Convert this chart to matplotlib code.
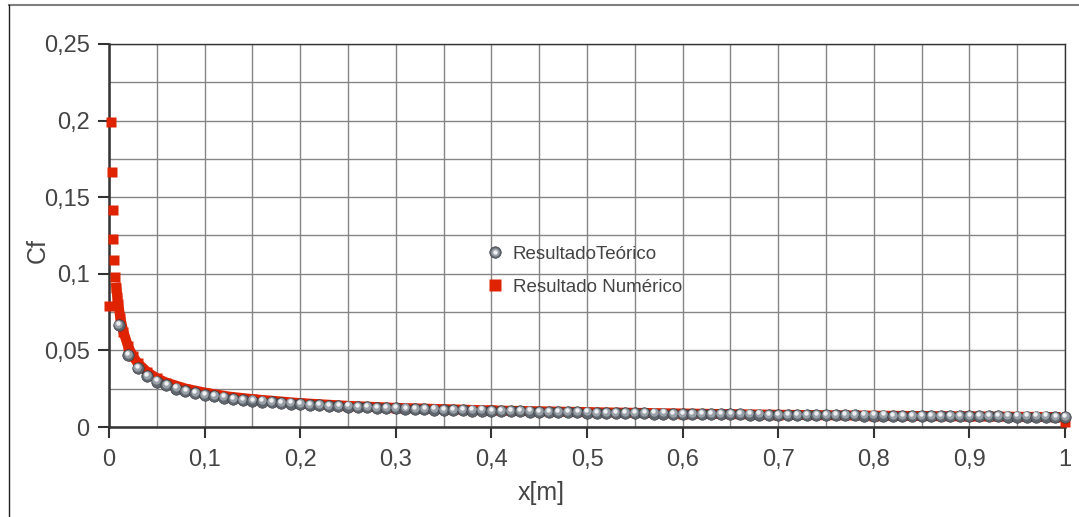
import matplotlib.pyplot as plt
import numpy as np
from matplotlib.lines import Line2D
from matplotlib.ticker import FuncFormatter, MultipleLocator
from matplotlib.transforms import ScaledTranslation

plt.rcParams['font.family'] = ['Liberation Sans', 'DejaVu Sans']

# Cf teorico, x = 0.01 ... 1.0 (passo 0.01)
x_teo = np.linspace(0.01, 1.0, 100)
cf_teo = [
    0.0664, 0.04695, 0.03834, 0.0332, 0.02969, 0.02711, 0.02510, 0.02348, 0.02213, 0.02100,
    0.02002, 0.01917, 0.01842, 0.01775, 0.01714, 0.0166, 0.01610, 0.01565, 0.01523, 0.01485,
    0.01449, 0.01416, 0.01385, 0.01355, 0.01328, 0.01302, 0.01278, 0.01255, 0.01233, 0.01212,
    0.01193, 0.01174, 0.01156, 0.01139, 0.01122, 0.01107, 0.01092, 0.01077, 0.01063, 0.01050,
    0.01037, 0.01025, 0.01013, 0.01001, 0.00990, 0.00979, 0.00969, 0.00958, 0.00949, 0.00939,
    0.00930, 0.00921, 0.00912, 0.00904, 0.00895, 0.00887, 0.00879, 0.00872, 0.00864, 0.00857,
    0.00850, 0.00843, 0.00837, 0.0083, 0.00824, 0.00817, 0.00811, 0.00805, 0.00799, 0.00794,
    0.00788, 0.00783, 0.00777, 0.00772, 0.00767, 0.00762, 0.00757, 0.00752, 0.00747, 0.00742,
    0.00738, 0.00733, 0.00729, 0.00724, 0.00720, 0.00716, 0.00712, 0.00708, 0.00704, 0.00700,
    0.00696, 0.00692, 0.00689, 0.00685, 0.00681, 0.00678, 0.00674, 0.00671, 0.00667, 0.00664,
]

# Cf numerico - pontos isolados no bordo de ataque
x_num_le = [0.0, 0.0017, 0.0027, 0.0037, 0.0047, 0.0057, 0.0067]
cf_num_le = [0.0788, 0.199, 0.1667, 0.1414, 0.1227, 0.109, 0.0981]

# Cf numerico - resto da placa
x_num = [0.0077, 0.0087, 0.0097, 0.012, 0.015, 0.02, 0.025, 0.03, 0.04, 0.05,
         0.06, 0.08, 0.1, 0.125, 0.15, 0.2, 0.25, 0.3, 0.4, 0.5,
         0.6, 0.7, 0.8, 0.9, 0.99]
cf_num = [0.0909, 0.085, 0.080, 0.0709, 0.0623, 0.0526, 0.0462, 0.0418, 0.0359, 0.0318,
          0.0290, 0.0251, 0.0225, 0.0199, 0.0182, 0.0156, 0.0138, 0.0125, 0.0108, 0.0097,
          0.0088, 0.0080, 0.0074, 0.0069, 0.0065]

# ultimo ponto (bordo de fuga)
x_num_te = [1.0]
cf_num_te = [0.0035]

red = '#df2200'
txt = '#444444'

fig = plt.figure(figsize=(10.79, 5.17), dpi=100)
ax = fig.add_axes([109 / 1079, 1 - 427 / 517, 956 / 1079, 383 / 517])

# resultado numerico
ax.plot(x_num, cf_num, '-', color=red, lw=7.2, marker='s', ms=6.8, mec='none',
        solid_joinstyle='round', zorder=3, clip_on=False)
ax.plot(x_num_le + x_num_te, cf_num_le + cf_num_te, 's', color=red, ms=6.8,
        mec='none', zorder=3, clip_on=False)
num_handle = Line2D([], [], ls='none', marker='s', color=red, ms=8, mec='none')

# resultado teorico (esferas)
base, = ax.plot(x_teo, cf_teo, 'o', ms=8.3, mfc='#60666e', mec='#34373c', mew=0.4,
                zorder=4, clip_on=False)
mid_tr = ax.transData + ScaledTranslation(-0.3 / 72, 0.9 / 72, fig.dpi_scale_trans)
mid, = ax.plot(x_teo, cf_teo, 'o', ms=6.0, mfc='#9aa0a7', mec='none',
               zorder=5, clip_on=False, transform=mid_tr)
hi_tr = ax.transData + ScaledTranslation(-0.6 / 72, 1.6 / 72, fig.dpi_scale_trans)
hi, = ax.plot(x_teo, cf_teo, 'o', ms=3.2, mfc='#eef0f2', mec='none',
              zorder=6, clip_on=False, transform=hi_tr)

ax.set_xlim(0, 1)
ax.set_ylim(0, 0.25)

ax.xaxis.set_major_locator(MultipleLocator(0.1))
ax.xaxis.set_minor_locator(MultipleLocator(0.05))
ax.yaxis.set_major_locator(MultipleLocator(0.05))
ax.yaxis.set_minor_locator(MultipleLocator(0.025))

fmt = FuncFormatter(lambda v, p: f"{round(v, 3):g}".replace('.', ','))
ax.xaxis.set_major_formatter(fmt)
ax.yaxis.set_major_formatter(fmt)

ax.set_axisbelow(True)
ax.grid(which='both', color='#858585', lw=1)
ax.tick_params(which='major', direction='out', length=8, width=1.5, color='#333333',
               labelsize=17, labelcolor=txt)
ax.tick_params(axis='y', pad=6)
ax.tick_params(axis='x', pad=8)
ax.tick_params(which='minor', length=0)

for side in ['left', 'bottom']:
    ax.spines[side].set_linewidth(1.8)
    ax.spines[side].set_color('#333333')
for side in ['top', 'right']:
    ax.spines[side].set_linewidth(1)
    ax.spines[side].set_color('#333333')

ax.set_xlabel('x[m]', fontsize=18, color=txt)
ax.xaxis.set_label_coords(0.452, -0.14)
ax.set_ylabel('Cf', fontsize=18, color=txt)
ax.yaxis.set_label_coords(-0.062, 0.46)

ax.legend([(base, mid, hi), num_handle], ['ResultadoTeórico', 'Resultado Numérico'],
          loc='center left', bbox_to_anchor=(0.386, 0.4086), frameon=False,
          fontsize=13.5, labelcolor=txt, handlelength=1.0, handletextpad=0.45,
          labelspacing=0.85, borderaxespad=0)

# moldura da figura
fig.add_artist(Line2D([9 / 1079, 1], [1 - 5 / 517] * 2, transform=fig.transFigure,
                      color='#808080', lw=1.5))
fig.add_artist(Line2D([9 / 1079] * 2, [0, 1 - 5 / 517], transform=fig.transFigure,
                      color='#222222', lw=1))

fig.savefig('out.png', dpi=100)
